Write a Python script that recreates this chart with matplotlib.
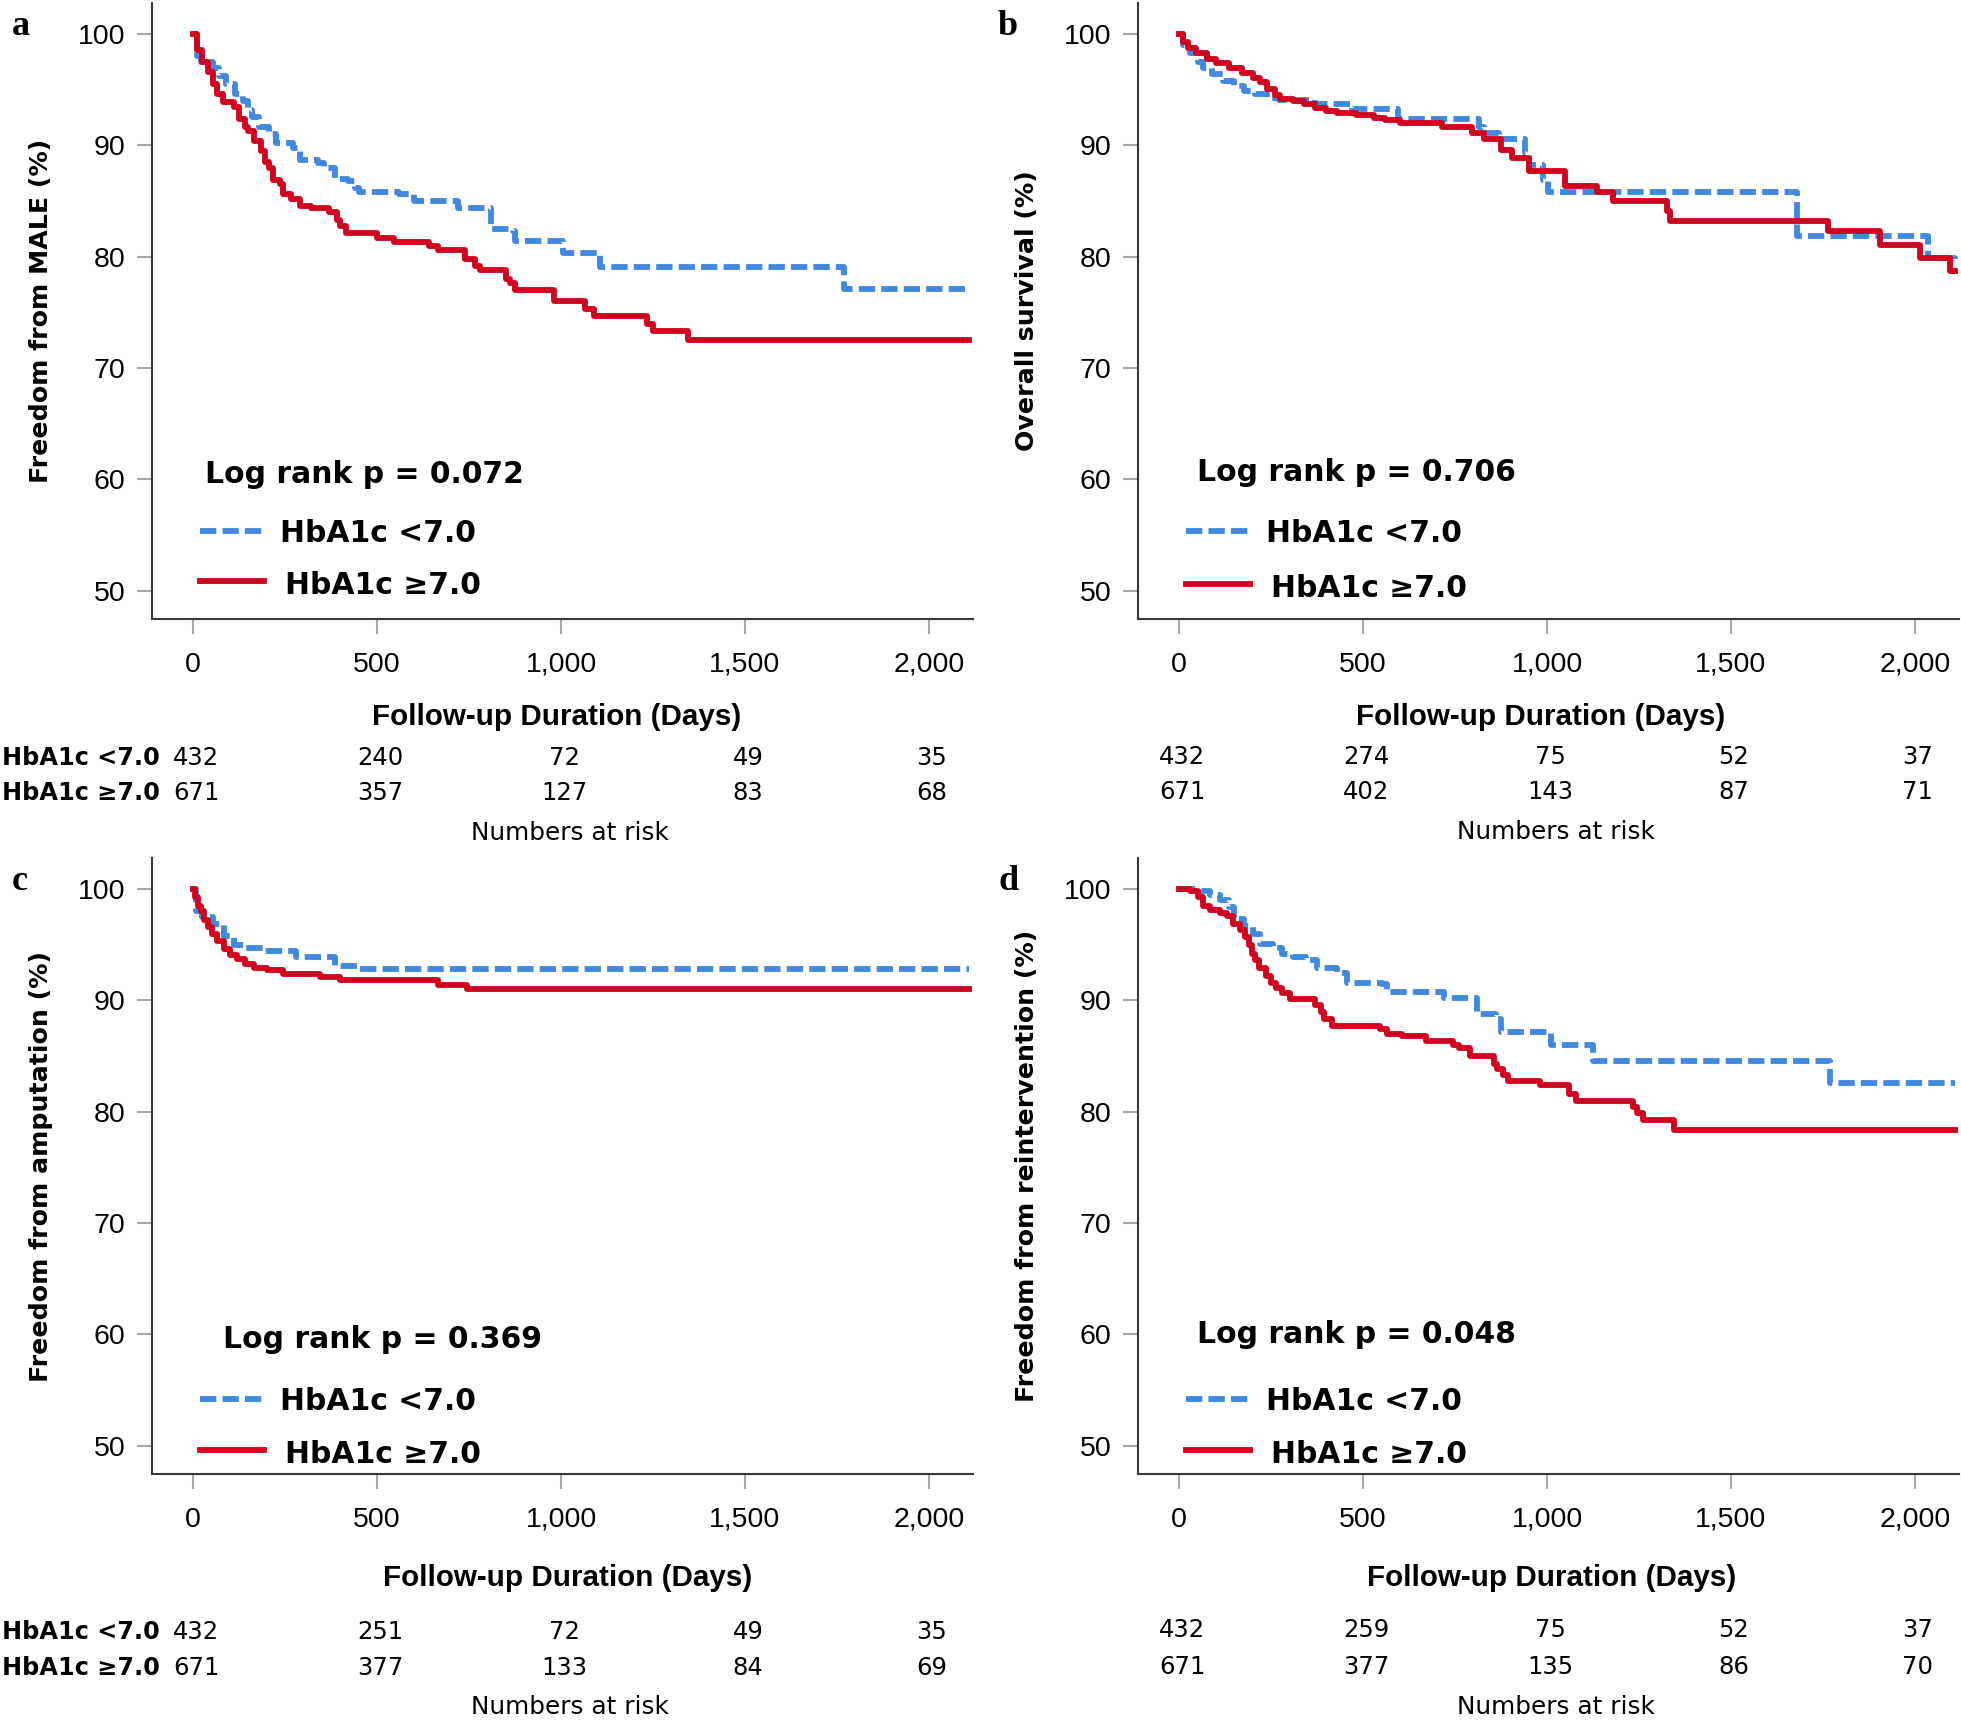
import matplotlib
matplotlib.use('Agg')
import matplotlib.pyplot as plt
import matplotlib.transforms as mtrans
from matplotlib.ticker import FuncFormatter

plt.rcParams['font.family'] = ['Liberation Sans', 'DejaVu Sans']

W, H = 1961, 1721
BLUE = '#4189e0'
RED = '#d2021f'

# numbers at risk columns
risk_days = [0, 500, 1000, 1500, 2000]
group_names = ['HbA1c <7.0', 'HbA1c \u22657.0']

# a: freedom from MALE
a_lo_t = [0, 10, 20, 55, 70, 90, 115, 135, 150, 160, 180, 205, 225, 270, 290, 340, 355, 385,
          420, 440, 450, 560, 600, 720, 810, 870, 875, 1005, 1105, 1770, 2110]
a_lo_s = [100, 98.0, 97.5, 97.0, 96.2, 95.5, 94.6, 94.0, 93.2, 92.6, 91.7, 91.0, 90.2, 89.8, 88.7,
          88.4, 88.0, 87.0, 86.8, 86.2, 85.8, 85.6, 85.0, 84.4, 82.5, 82.3, 81.4, 80.3, 79.1, 77.1, 77.1]
a_hi_t = [0, 10, 25, 40, 55, 65, 80, 110, 124, 140, 150, 166, 183, 195, 205, 217, 235, 245, 265,
          290, 320, 370, 390, 400, 415, 500, 545, 640, 665, 740, 765, 780, 850, 860, 875, 980,
          1065, 1090, 1235, 1250, 1345, 2110]
a_hi_s = [100, 98.6, 97.5, 96.6, 95.5, 94.6, 93.9, 93.5, 92.4, 91.7, 91.3, 90.4, 89.5, 88.5, 88.0,
          86.9, 86.5, 85.6, 85.2, 84.6, 84.4, 84.0, 83.3, 82.8, 82.1, 81.7, 81.3, 81.0, 80.6, 79.8,
          79.2, 78.8, 78.0, 77.6, 77.0, 76.0, 75.3, 74.7, 74.0, 73.3, 72.5, 72.5]
a_risk_lo = [432, 240, 72, 49, 35]
a_risk_hi = [671, 357, 127, 83, 68]

# b: overall survival
b_lo_t = [0, 10, 30, 50, 65, 90, 120, 150, 175, 205, 240, 270, 370, 470, 595, 815, 830, 870,
          940, 950, 990, 1003, 1680, 2035, 2110]
b_lo_s = [100, 99.0, 98.3, 97.5, 97.0, 96.4, 95.8, 95.3, 94.9, 94.6, 94.3, 94.1, 93.7, 93.3, 92.4,
          91.7, 91.1, 90.6, 89.3, 88.2, 86.9, 85.8, 81.9, 79.9, 79.8]
b_hi_t = [0, 10, 25, 45, 75, 100, 135, 170, 200, 220, 240, 260, 275, 310, 340, 370, 400, 430,
          480, 530, 560, 600, 715, 795, 830, 875, 905, 950, 1050, 1135, 1180, 1325, 1333, 1765,
          1905, 2015, 2095, 2110]
b_hi_s = [100, 99.3, 98.8, 98.3, 97.8, 97.4, 97.0, 96.5, 96.1, 95.7, 95.1, 94.5, 94.2, 94.0, 93.7,
          93.4, 93.1, 92.9, 92.7, 92.5, 92.3, 92.0, 91.7, 91.1, 90.6, 89.6, 88.9, 87.7, 86.4, 85.8,
          85.0, 84.1, 83.2, 82.3, 81.1, 79.9, 78.7, 78.7]
b_risk_lo = [432, 274, 75, 52, 37]
b_risk_hi = [671, 402, 143, 87, 71]

# c: freedom from amputation
c_lo_t = [0, 8, 25, 55, 85, 110, 140, 190, 280, 385, 445, 2110]
c_lo_s = [100, 98.0, 97.5, 96.9, 95.8, 95.0, 94.7, 94.4, 93.9, 93.1, 92.8, 92.8]
c_hi_t = [0, 5, 12, 20, 30, 40, 50, 65, 85, 100, 120, 140, 165, 200, 245, 345, 400, 665, 745, 2110]
c_hi_s = [100, 99.3, 98.5, 98.0, 97.2, 96.6, 96.0, 95.3, 94.6, 94.1, 93.7, 93.3, 92.9, 92.7,
          92.4, 92.1, 91.8, 91.4, 91.0, 91.0]
c_risk_lo = [432, 251, 72, 49, 35]
c_risk_hi = [671, 377, 133, 84, 69]

# d: freedom from reintervention
d_lo_t = [0, 60, 85, 110, 135, 150, 175, 200, 220, 255, 280, 310, 345, 375, 430, 455, 550, 565,
          720, 810, 860, 875, 1010, 1125, 1770, 2110]
d_lo_s = [100, 99.8, 99.5, 99.0, 98.4, 97.3, 96.7, 96.0, 95.1, 94.7, 94.2, 93.9, 93.6, 92.9, 92.5,
          91.6, 91.5, 90.8, 90.2, 88.8, 88.3, 87.2, 86.0, 84.6, 82.6, 82.6]
d_hi_t = [0, 30, 50, 65, 85, 110, 130, 145, 165, 180, 190, 198, 207, 218, 235, 250, 262, 280, 300,
          370, 385, 395, 415, 545, 565, 605, 670, 745, 760, 790, 855, 865, 880, 895, 980, 1060,
          1080, 1235, 1245, 1262, 1345, 2110]
d_hi_s = [100, 99.8, 99.3, 98.5, 98.1, 97.9, 97.6, 96.9, 96.3, 95.7, 95.0, 94.2, 93.6, 92.9, 92.2,
          91.6, 91.1, 90.7, 90.1, 89.6, 89.0, 88.3, 87.7, 87.4, 87.0, 86.8, 86.4, 86.0, 85.7, 85.0,
          84.3, 83.8, 83.3, 82.8, 82.4, 81.6, 81.0, 80.4, 79.9, 79.3, 78.4, 78.4]
d_risk_lo = [432, 259, 75, 52, 37]
d_risk_hi = [671, 377, 135, 86, 70]

panels = [
    dict(tag='a', ylabel='Freedom from MALE (%)', p='0.072', box=(152, 3, 973, 619),
         lo=(a_lo_t, a_lo_s), hi=(a_hi_t, a_hi_s), risk=(a_risk_lo, a_risk_hi),
         lr=(53, 483), leg=(531, 583), rows=(765, 800, 840), xl=(-6, 725), names=True),
    dict(tag='b', ylabel='Overall survival (%)', p='0.706', box=(1138, 3, 1959, 619),
         lo=(b_lo_t, b_lo_s), hi=(b_hi_t, b_hi_s), risk=(b_risk_lo, b_risk_hi),
         lr=(59, 481), leg=(531, 586), rows=(764, 799, 839), xl=(-8, 725), names=False),
    dict(tag='c', ylabel='Freedom from amputation (%)', p='0.369', box=(152, 858, 973, 1474),
         lo=(c_lo_t, c_lo_s), hi=(c_hi_t, c_hi_s), risk=(c_risk_lo, c_risk_hi),
         lr=(71, 1348), leg=(1399, 1452), rows=(1639, 1675, 1714), xl=(5, 1586), names=True),
    dict(tag='d', ylabel='Freedom from reintervention (%)', p='0.048', box=(1138, 858, 1959, 1474),
         lo=(d_lo_t, d_lo_s), hi=(d_hi_t, d_hi_s), risk=(d_risk_lo, d_risk_hi),
         lr=(59, 1343), leg=(1399, 1452), rows=(1637, 1674, 1714), xl=(3, 1586), names=False),
]


def fx(px):
    return px / W


def fy(py):
    return 1 - py / H


fig = plt.figure(figsize=(W / 100, H / 100), dpi=100)

for pn in panels:
    l, t, r, b = pn['box']
    ax = fig.add_axes([fx(l), fy(b), (r - l) / W, (b - t) / H])
    ax.plot(pn['lo'][0], pn['lo'][1], drawstyle='steps-post', color=BLUE, lw=4.2,
            dashes=(2.8, 1.05), dash_capstyle='butt')
    ax.plot(pn['hi'][0], pn['hi'][1], drawstyle='steps-post', color=RED, lw=4.2)
    ax.set_xlim(-112, 2120)
    ax.set_ylim(47.45, 102.8)
    ax.set_xticks(risk_days)
    ax.set_yticks(range(50, 101, 10))
    ax.xaxis.set_major_formatter(FuncFormatter(lambda v, pos: '{:,.0f}'.format(v)))
    ax.tick_params(direction='out', length=11, width=1.5, color='#a8a8a8', labelsize=20.5)
    ax.tick_params(axis='x', pad=12.5)
    ax.tick_params(axis='y', pad=8)
    for s in ['top', 'right']:
        ax.spines[s].set_visible(False)
    for s in ['left', 'bottom']:
        ax.spines[s].set_color('#3a3a3a')
        ax.spines[s].set_linewidth(1.5)

    # log rank + legend
    lx, ly = pn['lr']
    fig.text(fx(l + lx), fy(ly), 'Log rank p = ' + pn['p'], family='DejaVu Sans',
             weight='bold', fontsize=21.5, va='baseline')
    y1, y2 = pn['leg']
    ax.plot([fx(l + 48), fx(l + 112)], [fy(y1), fy(y1)], transform=fig.transFigure,
            color=BLUE, lw=4.2, dashes=(2.8, 1.05), dash_capstyle='butt', clip_on=False)
    ax.plot([fx(l + 48), fx(l + 112)], [fy(y2 - 2), fy(y2 - 2)], transform=fig.transFigure,
            color=RED, lw=4.2, clip_on=False)
    fig.text(fx(l + 128), fy(y1 + 11), group_names[0], family='DejaVu Sans', weight='bold',
             fontsize=21.5, va='baseline')
    fig.text(fx(l + 133), fy(y2 + 11), group_names[1], family='DejaVu Sans', weight='bold',
             fontsize=21.5, va='baseline')

    # axis labels
    fig.text(fx(l - 111), fy((t + b) / 2), pn['ylabel'], family='DejaVu Sans', weight='bold',
             fontsize=18.2, rotation=90, ha='center', va='center')
    xo, xy = pn['xl']
    fig.text(fx((l + r) / 2 + xo), fy(xy), 'Follow-up Duration (Days)', weight='bold',
             fontsize=21.3, ha='center', va='baseline')

    # numbers at risk
    trans = mtrans.blended_transform_factory(ax.transData, fig.transFigure)
    r1, r2, r3 = pn['rows']
    for yy, counts in zip([r1, r2], pn['risk']):
        for d, n in zip(risk_days, counts):
            ax.text(d + 8, fy(yy), str(n), transform=trans, family='DejaVu Sans', fontsize=17.5,
                    ha='center', va='baseline', clip_on=False)
    ax.text(1024, fy(r3), 'Numbers at risk', transform=trans, family='DejaVu Sans',
            fontsize=17.8, ha='center', va='baseline', clip_on=False)
    if pn['names']:
        for yy, nm in zip([r1, r2], group_names):
            fig.text(fx(2), fy(yy), nm, family='DejaVu Sans', weight='bold', fontsize=17.3,
                     va='baseline')

    # panel letter
    fig.text(fx(l - 140), fy(t + 32), pn['tag'], family=['Liberation Serif', 'DejaVu Serif'],
             weight='bold', fontsize=26, va='baseline')

fig.savefig('out.png', dpi=100)
